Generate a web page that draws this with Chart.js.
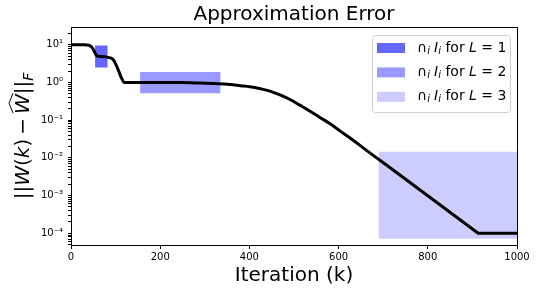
<!DOCTYPE html>
<html>
<head>
<meta charset="utf-8">
<script src="https://cdn.jsdelivr.net/npm/chart.js@4.4.0/dist/chart.umd.min.js"></script>
<style>
  html, body { margin: 0; padding: 0; background: #fff; }
  #wrap { width: 536px; height: 292px; }
</style>
</head>
<body>
<div id="wrap"><canvas id="errChart" width="536" height="292"></canvas></div>
<script>
// error curve (smooth part)
var iterX = [0, 30, 40, 45, 50, 54, 57, 62, 75, 88, 93, 98, 103, 107, 111, 115, 119,
             150, 200, 250, 290, 330, 357, 380, 401, 425, 446, 470, 491, 513, 536,
             558, 581, 603, 625, 648, 670];
var errY = [10, 10, 9.7, 9.0, 7.5, 6.0, 5.2, 4.95, 4.8, 4.5, 4.2, 3.5, 2.6, 2.0, 1.5, 1.2, 1.0,
            1.0, 1.0, 0.99, 0.96, 0.93, 0.88, 0.82, 0.77, 0.68, 0.59, 0.46, 0.353, 0.25, 0.173,
            0.118, 0.080, 0.052, 0.034, 0.0214, 0.0136];
// straight tail of the curve
var tailX = [670, 708, 913, 1000];
var tailY = [0.0136, 0.0064, 0.0001, 0.0001];

// intersection boxes (x range, y range)
var boxL1X = [54, 82],   boxL1Y = [2.5, 9.5];
var boxL2X = [155, 335], boxL2Y = [0.52, 1.9];
var boxL3X = [690, 1000], boxL3Y = [0.000072, 0.0145];
var levels = [1, 2, 3];
var boxAlpha = [0.6, 0.4, 0.2];

var xTicks = [0, 200, 400, 600, 800, 1000];
var yTickExps = [-4, -3, -2, -1, 0, 1];

var FONT = '"DejaVu Sans", sans-serif';

function boxPoints(bx, by) {
  return [{x: bx[0], y: by[0]}, {x: bx[0], y: by[1]}, {x: bx[1], y: by[1]}, {x: bx[1], y: by[0]}];
}
function toPoints(xs, ys) {
  return xs.map(function(x, i){ return {x: x, y: ys[i]}; });
}

var supDigits = {'0':'⁰','1':'¹','2':'²','3':'³','4':'⁴','5':'⁵','6':'⁶','7':'⁷','8':'⁸','9':'⁹','-':'⁻'};
function powLabel(e) {
  return '10' + String(e).split('').map(function(c){ return supDigits[c]; }).join('');
}

var boxes = [[boxL1X, boxL1Y], [boxL2X, boxL2Y], [boxL3X, boxL3Y]];

var datasets = [{
  label: 'error',
  data: toPoints(iterX, errY),
  showLine: true,
  borderColor: '#000',
  borderWidth: 3,
  pointRadius: 0,
  cubicInterpolationMode: 'monotone',
  fill: false,
  order: 0
}, {
  label: 'error tail',
  data: toPoints(tailX, tailY),
  showLine: true,
  borderColor: '#000',
  borderWidth: 3,
  borderJoinStyle: 'round',
  pointRadius: 0,
  tension: 0,
  fill: false,
  order: 0
}];
boxes.forEach(function(b, i) {
  datasets.push({
    label: '∩ᵢ Iᵢ for L = ' + levels[i],
    data: boxPoints(b[0], b[1]),
    showLine: true,
    borderWidth: 0,
    borderColor: 'rgba(0,0,0,0)',
    backgroundColor: 'rgba(0,0,255,' + boxAlpha[i] + ')',
    pointRadius: 0,
    tension: 0,
    fill: 'shape',
    order: 1
  });
});

function drawRich(ctx, pieces, x, y) {
  pieces.forEach(function(p) {
    ctx.font = (p.italic ? 'italic ' : '') + p.size + 'px ' + FONT;
    ctx.fillText(p.t, x, y + (p.dy || 0));
    if (p.hat) {
      var w = ctx.measureText(p.t).width;
      ctx.save();
      ctx.lineWidth = 1;
      ctx.beginPath();
      ctx.moveTo(x + 1, y - p.size * 0.80);
      ctx.lineTo(x + w / 2 + 1, y - p.size * 1.0);
      ctx.lineTo(x + w + 1, y - p.size * 0.80);
      ctx.stroke();
      ctx.restore();
    }
    x += ctx.measureText(p.t).width + (p.after || 0);
  });
  return x;
}
function richWidth(ctx, pieces) {
  var w = 0;
  pieces.forEach(function(p) {
    ctx.font = (p.italic ? 'italic ' : '') + p.size + 'px ' + FONT;
    w += ctx.measureText(p.t).width + (p.after || 0);
  });
  return w;
}

var decorPlugin = {
  id: 'decor',
  afterDatasetsDraw: function(chart) {
    var a = chart.chartArea, ctx = chart.ctx;
    ctx.save();
    ctx.strokeStyle = '#000';
    ctx.lineWidth = 1;
    ctx.strokeRect(Math.round(a.left) + 0.5, Math.round(a.top) + 0.5,
                   Math.round(a.right - a.left), Math.round(a.bottom - a.top));
    ctx.restore();
  },
  afterDraw: function(chart) {
    var a = chart.chartArea, ctx = chart.ctx;
    // y axis label
    var yl = [
      {t: '||', size: 20},
      {t: 'W', size: 20, italic: true},
      {t: '(', size: 20},
      {t: 'k', size: 20, italic: true},
      {t: ')', size: 20, after: 4},
      {t: '−', size: 20, after: 4},
      {t: 'W', size: 20, italic: true, hat: true},
      {t: '||', size: 20},
      {t: 'F', size: 14, italic: true, dy: 4}
    ];
    ctx.save();
    ctx.fillStyle = '#000';
    ctx.strokeStyle = '#000';
    ctx.textBaseline = 'alphabetic';
    ctx.textAlign = 'left';
    ctx.translate(29, (a.top + a.bottom) / 2);
    ctx.rotate(-Math.PI / 2);
    drawRich(ctx, yl, -richWidth(ctx, yl) / 2, 0);
    ctx.restore();

    // legend
    var lx = 372, ly = 35, lw = 138, lh = 77;
    ctx.save();
    ctx.beginPath();
    ctx.roundRect(lx + 0.5, ly + 0.5, lw, lh, 3);
    ctx.fillStyle = 'rgba(255,255,255,0.8)';
    ctx.fill();
    ctx.strokeStyle = '#d0d0d0';
    ctx.lineWidth = 1;
    ctx.stroke();
    ctx.textBaseline = 'middle';
    for (var i = 0; i < levels.length; i++) {
      var cy = 48 + i * 24.4;
      ctx.fillStyle = chart.data.datasets[i + 2].backgroundColor;
      ctx.fillRect(377, cy - 5, 28, 10);
      ctx.fillStyle = '#000';
      drawRich(ctx, [
        {t: '∩', size: 14},
        {t: 'i', size: 10, italic: true, dy: 3, after: 4},
        {t: 'I', size: 14, italic: true},
        {t: 'i', size: 10, italic: true, dy: 3},
        {t: ' for ', size: 14},
        {t: 'L', size: 14, italic: true},
        {t: ' = ', size: 14},
        {t: String(levels[i]), size: 14}
      ], 417, cy);
    }
    ctx.restore();
  }
};

new Chart(document.getElementById('errChart'), {
  type: 'scatter',
  data: { datasets: datasets },
  plugins: [decorPlugin],
  options: {
    responsive: false,
    animation: false,
    layout: { padding: { left: 0, right: 19, top: 0, bottom: 0 } },
    plugins: {
      legend: { display: false },
      tooltip: { enabled: false },
      title: {
        display: true,
        fullSize: false,
        text: 'Approximation Error',
        color: '#000',
        font: { family: FONT, size: 20, weight: 'normal' },
        padding: { top: 3, bottom: 0 }
      }
    },
    scales: {
      x: {
        type: 'linear',
        min: 0, max: 1000,
        afterFit: function(s) { s.height = 47; },
        afterBuildTicks: function(s) { s.ticks = xTicks.map(function(v){ return {value: v}; }); },
        grid: { drawOnChartArea: false, tickLength: 4, color: '#000' },
        border: { color: '#000', width: 1 },
        ticks: {
          color: '#000', font: { family: FONT, size: 10 }, padding: 2, maxRotation: 0,
          callback: function(v) { return String(v); }
        },
        title: {
          display: true, text: 'Iteration (k)', color: '#000',
          font: { family: FONT, size: 20 }, padding: { top: 0, bottom: 4 }
        }
      },
      y: {
        type: 'logarithmic',
        min: 0.000049, max: 29.5,
        afterFit: function(s) { s.width = 71; },
        afterBuildTicks: function(s) {
          var t = [];
          for (var e = -5; e <= 1; e++) {
            for (var m = 1; m <= 9; m++) {
              var v = m * Math.pow(10, e);
              if (v >= s.min && v <= s.max) t.push({value: v, major: m === 1});
            }
          }
          s.ticks = t;
        },
        grid: { drawOnChartArea: false, tickLength: 3, color: '#000' },
        border: { color: '#000', width: 1 },
        ticks: {
          color: '#000', font: { family: FONT, size: 10 }, padding: 5, autoSkip: false,
          callback: function(v) {
            var e = Math.log10(v), r = Math.round(e);
            return (Math.abs(e - r) < 1e-6 && yTickExps.indexOf(r) >= 0) ? powLabel(r) : '';
          }
        }
      }
    }
  }
});
</script>
</body>
</html>
